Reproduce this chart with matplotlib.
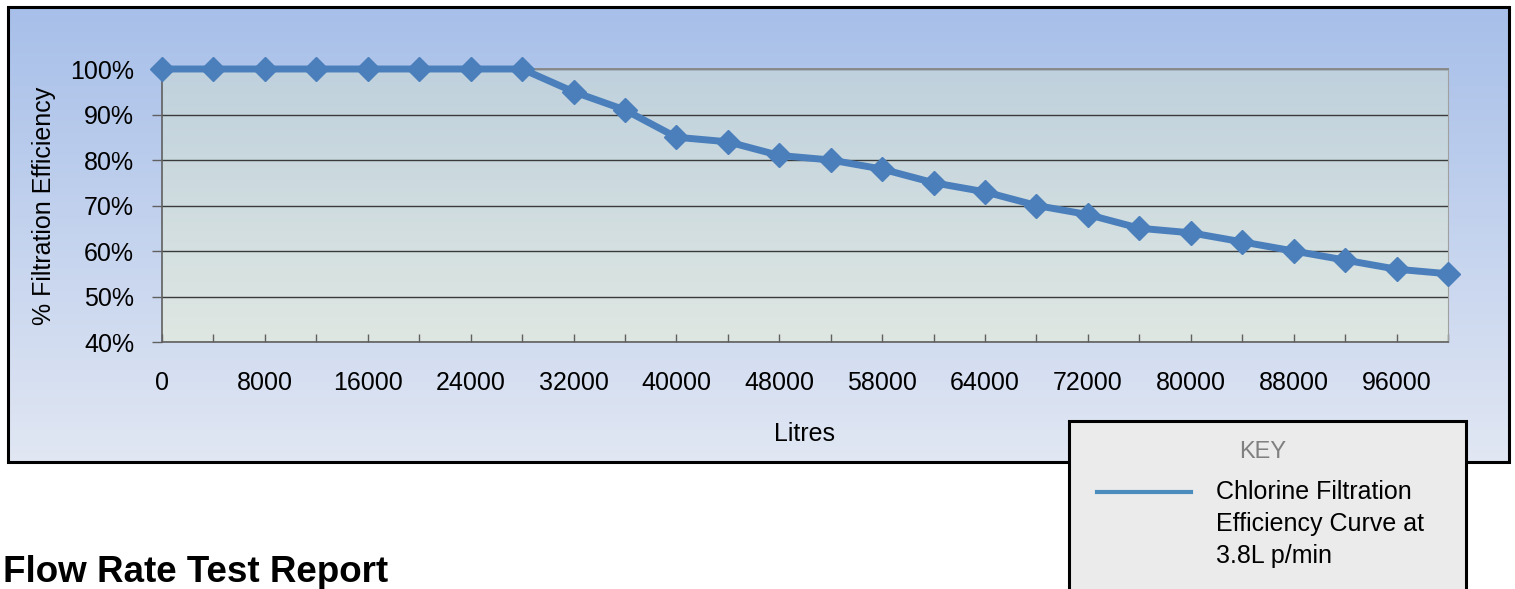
import numpy as np
import matplotlib
matplotlib.use("Agg")
import matplotlib.pyplot as plt
from matplotlib.colors import LinearSegmentedColormap
from matplotlib.patches import Rectangle

# data
litres = ["0", "4000", "8000", "12000", "16000", "20000", "24000", "28000",
          "32000", "36000", "40000", "44000", "48000", "52000", "58000", "61000",
          "64000", "68000", "72000", "76000", "80000", "84000", "88000", "92000",
          "96000", "100000"]
efficiency = [100, 100, 100, 100, 100, 100, 100, 100,
              95, 91, 85, 84, 81, 80, 78, 75,
              73, 70, 68, 65, 64, 62, 60, 58,
              56, 55]
y_ticks = [40, 50, 60, 70, 80, 90, 100]
series_name = "Chlorine Filtration\nEfficiency Curve at\n3.8L p/min"

plt.rcParams['font.family'] = ['Liberation Sans', 'DejaVu Sans']

W, H = 1515, 589
fig = plt.figure(figsize=(W / 100, H / 100), dpi=100)
fig.patch.set_facecolor("white")


def box(x0, y0, x1, y1):
    # pixel box (top-left origin) -> figure fraction rect
    return [x0 / W, 1 - y1 / H, (x1 - x0) / W, (y1 - y0) / H]


def gradient(ax, top, bottom, z=0):
    cmap = LinearSegmentedColormap.from_list("g", [bottom, top])
    g = np.linspace(0, 1, 256).reshape(-1, 1)
    ax.imshow(g, cmap=cmap, origin="lower", aspect="auto",
              extent=[0, 1, 0, 1], transform=ax.transAxes, zorder=z)


# outer chart frame with blue gradient
bg = fig.add_axes(box(8, 7, 1509, 462))
bg.set_axis_off()
gradient(bg, "#a7bfe9", "#e1e7f3")
bg.add_patch(Rectangle((0, 0), 1, 1, transform=bg.transAxes, fill=False,
                       edgecolor="black", linewidth=2.2, clip_on=False))

# plot area
ax = fig.add_axes(box(162, 69, 1448, 342))
ax.set_facecolor("none")
gradient(ax, "#bfd1dd", "#dfe7e2", z=-10)

x = np.arange(len(litres))
ax.plot(x, efficiency, color="#4a7fbc", linewidth=5, marker="D",
        markersize=12, clip_on=False, zorder=5)

ax.set_xlim(0, len(litres) - 1)
ax.set_ylim(40, 100)
ax.set_yticks(y_ticks)
ax.set_yticklabels([f"{v}%" for v in y_ticks], fontsize=18)
ax.set_xticks(x)
ax.set_xticklabels([lab if i % 2 == 0 else "" for i, lab in enumerate(litres)],
                   fontsize=18)
ax.tick_params(axis="y", direction="out", length=7, width=1,
               color="#606060", pad=13)
ax.tick_params(axis="x", direction="in", length=6, width=1,
               color="#606060", pad=21)

ax.grid(axis="y", color="#3a3a3a", linewidth=1, zorder=1)
ax.set_axisbelow(True)
for s in ["left", "bottom"]:
    ax.spines[s].set_color("#606060")
    ax.spines[s].set_linewidth(1.2)
ax.spines["right"].set_color("#a0a0a0")
ax.spines["top"].set_color("#8a8a8a")
ax.spines["top"].set_linewidth(1.4)

ax.set_xlabel("Litres", fontsize=18, labelpad=19)
ax.set_ylabel("% Filtration Efficiency", fontsize=18, labelpad=10)

# key box
key = fig.add_axes(box(1069, 421, 1466, 600))
key.set_xlim(1069, 1466)
key.set_ylim(600, 421)
key.set_axis_off()
key.add_patch(Rectangle((1069, 421), 397, 179, facecolor="#ebebeb",
                        edgecolor="black", linewidth=2.2, clip_on=False))
key.text(1263, 452, "KEY", color="#808080", fontsize=17,
         ha="center", va="center")
key.plot([1097, 1191], [492, 492], color="#4a8cbe", linewidth=3)
key.text(1216, 480, series_name, fontsize=18, va="top", ha="left",
         linespacing=1.43)

fig.text(3 / W, 1 - 582 / H, "Flow Rate Test Report", fontsize=26.5,
         fontweight="bold", ha="left", va="baseline")

fig.savefig("out.png", dpi=100, facecolor="white")
